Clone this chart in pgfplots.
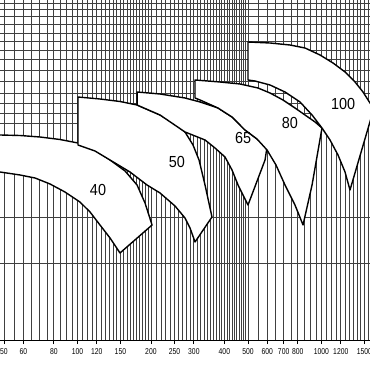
\documentclass[border=0pt]{standalone}
\usepackage{pgfplots}
\pgfplotsset{compat=1.18}
\usepackage{fontspec}
\setmainfont{Liberation Sans}
\newfontfamily\narrowfont[FakeStretch=0.8]{Liberation Sans}
\newfontfamily\labelfont[FakeStretch=0.9]{Liberation Sans}
\begin{document}
\begin{tikzpicture}
\begin{axis}[
  width=370pt, height=340pt, scale only axis,
  xmode=log, xmin=48.15, xmax=1581, ymin=0, ymax=340,
  axis lines*=left,
  y axis line style={draw=none},
  ytick style={draw=none},
  x axis line style={black, line width=0.9pt},
  xtick={50,60,80,100,120,150,200,250,300,400,500,600,700,800,1000,1200,1500},
  xticklabels={50,60,80,100,120,150,200,250,300,400,500,600,700,800,1000,1200,1500},
  minor xtick={55,65,70,75,85,90,95,105,110,115,125,130,135,140,145,155,160,165,170,175,180,185,190,195,
    210,220,230,240,260,270,280,290,310,320,330,340,350,360,370,380,390,410,420,430,440,450,460,470,480,490,
    550,650,750,850,900,950,1050,1100,1150,1250,1300,1350,1400,1450,1550},
  ytick={337,331,324,316,307,299,290,281,270,259,247,237,227,217,123,77},
  yticklabels={},
  xmajorgrids, xminorgrids, ymajorgrids,
  major grid style={black!75, line width=0.8pt},
  minor grid style={black!75, line width=0.8pt},
  major tick length=4pt, minor tick length=0pt,
  tick align=outside, xtick style={black, line width=0.8pt},
  xticklabel style={font=\narrowfont\fontsize{8.5}{10}\selectfont, inner sep=1pt, yshift=-3pt},
]
% region 40
\addplot[fill=white, draw=black, line width=1.4pt, line join=round] coordinates {
(39.9,206) (48.15,205) (58.2,204.5) (70.2,203) (84.8,200.5) (100.5,197) (118,190) (136,180) (156.7,169) (175.5,155) (189.2,137) (202.2,115)
(149.4,87) (136,102) (123.7,115) (112.6,128) (102.4,138) (88.9,148) (77.2,156) (67,162) (58.2,165) (48.15,168) (39.9,169)} -- cycle;
% region 50
\addplot[fill=white, draw=black, line width=1.4pt, line join=round] coordinates {
(100.5,243) (123.7,241) (149.4,238.5) (175.5,235) (218,225) (251.1,216) (275.9,208) (297.6,195) (315,180) (333.3,155) (355.9,123)
(303.3,98) (289.3,112) (275.9,122) (251.1,134) (218,147) (192.8,155) (164.2,168) (136,180) (118,189) (100.5,195)} -- cycle;
% region 65
\addplot[fill=white, draw=black, line width=1.4pt, line join=round] coordinates {
(175.5,248) (218,246) (275.9,242) (318,238) (376.7,232) (430,223) (486,210) (544.4,201) (598.4,193) (587.2,180)
(500,135) (477,145) (455,155) (430,170) (402.5,183) (366.2,192) (333.3,200) (275.9,208) (218,225) (175.5,235)} -- cycle;
% region 80
\addplot[fill=white, draw=black, line width=1.4pt, line join=round] coordinates {
(303.3,260) (383.9,258) (463.7,256) (549.5,252) (615.5,247) (695.6,240) (779.1,232) (856.4,225) (941.2,218) (1005,212)
(915,155) (840.3,115) (779.1,135) (708.9,155) (651.2,175) (598.4,190) (544.4,201) (486,210) (430,223) (376.7,232) (318,240) (303.3,242)} -- cycle;
% region 100
\addplot[fill=white, draw=black, line width=1.4pt, line join=round] coordinates {
(500,298) (615.5,297) (743.1,295) (856.4,292) (986.5,285) (1115,277) (1249,268) (1372.5,258) (1480,248) (1581,237) (1642,232)
(1309,150) (1249,168) (1169,185) (1084,200) (1005,212) (915,225) (816.8,238) (708.9,248) (615.5,255) (534.2,259) (500,260)} -- cycle;
\node[font=\labelfont\fontsize{16}{18}\selectfont] at (axis cs:121.4,150) {40};
\node[font=\labelfont\fontsize{16}{18}\selectfont] at (axis cs:255.8,178) {50};
\node[font=\labelfont\fontsize{16}{18}\selectfont] at (axis cs:477,202) {65};
\node[font=\labelfont\fontsize{16}{18}\selectfont] at (axis cs:743.1,217) {80};
\node[font=\labelfont\fontsize{16}{18}\selectfont] at (axis cs:1225.5,236) {100};
\coordinate (bbSW) at (rel axis cs:0,0);
\coordinate (bbNE) at (rel axis cs:1,1);
\end{axis}
\pgfresetboundingbox
\path[use as bounding box] ([yshift=-30pt]bbSW) rectangle (bbNE);
\end{tikzpicture}
\end{document}
